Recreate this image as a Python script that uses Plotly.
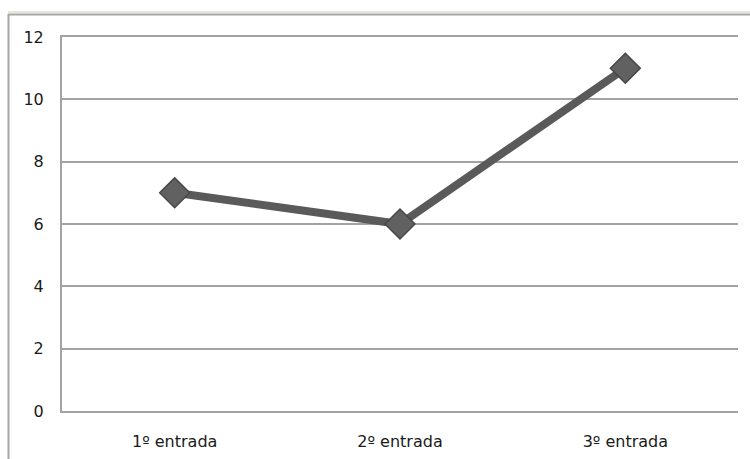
import plotly.graph_objects as go

categories = ["1º entrada", "2º entrada", "3º entrada"]
values = [7, 6, 11]
y_ticks = [0, 2, 4, 6, 8, 10, 12]

W, H = 750, 459
L, R, T, B = 62, 12, 37, 48
pw, ph = W - L - R, H - T - B


def px_x(p):
    return (p - L) / pw


def px_y(p):
    return (H - B - p) / ph


fig = go.Figure()

fig.add_trace(go.Scatter(
    x=categories, y=values,
    mode="lines+markers",
    line=dict(color="#5a5a5a", width=8),
    marker=dict(symbol="diamond", size=23, color="#616161",
                line=dict(color="#474747", width=1.5)),
    hoverinfo="skip",
    showlegend=False,
))

# outer chart frame (top and left edges)
frame = [
    dict(x0=px_x(8), x1=px_x(W + 20), y0=px_y(12), y1=px_y(12), color="#e6e6d6", width=2),
    dict(x0=px_x(8), x1=px_x(W + 20), y0=px_y(14.5), y1=px_y(14.5), color="#a6a6a6", width=2),
    dict(x0=px_x(8.5), x1=px_x(8.5), y0=px_y(14), y1=px_y(H + 20), color="#a6a6a6", width=2),
]
for f in frame:
    fig.add_shape(type="line", xref="paper", yref="paper",
                  x0=f["x0"], x1=f["x1"], y0=f["y0"], y1=f["y1"],
                  line=dict(color=f["color"], width=f["width"]), layer="above")

fig.update_layout(
    width=W, height=H,
    margin=dict(l=L, r=R, t=T, b=B),
    paper_bgcolor="white",
    plot_bgcolor="white",
    font=dict(family="DejaVu Sans", size=16, color="#1a1a1a"),
    xaxis=dict(
        type="category",
        range=[-0.5, 2.5],
        showgrid=False,
        showline=True,
        mirror=True,
        linecolor="#a3a3a3",
        linewidth=2,
        zeroline=False,
        ticks="",
        ticklabelstandoff=15,
        automargin=False,
    ),
    yaxis=dict(
        range=[0, 12],
        tickvals=y_ticks,
        showgrid=True,
        gridcolor="#a3a3a3",
        gridwidth=1.5,
        showline=True,
        linecolor="#a3a3a3",
        linewidth=2,
        zeroline=False,
        ticks="",
        ticklabelstandoff=13,
        automargin=False,
    ),
)

fig.write_html("out.html")
